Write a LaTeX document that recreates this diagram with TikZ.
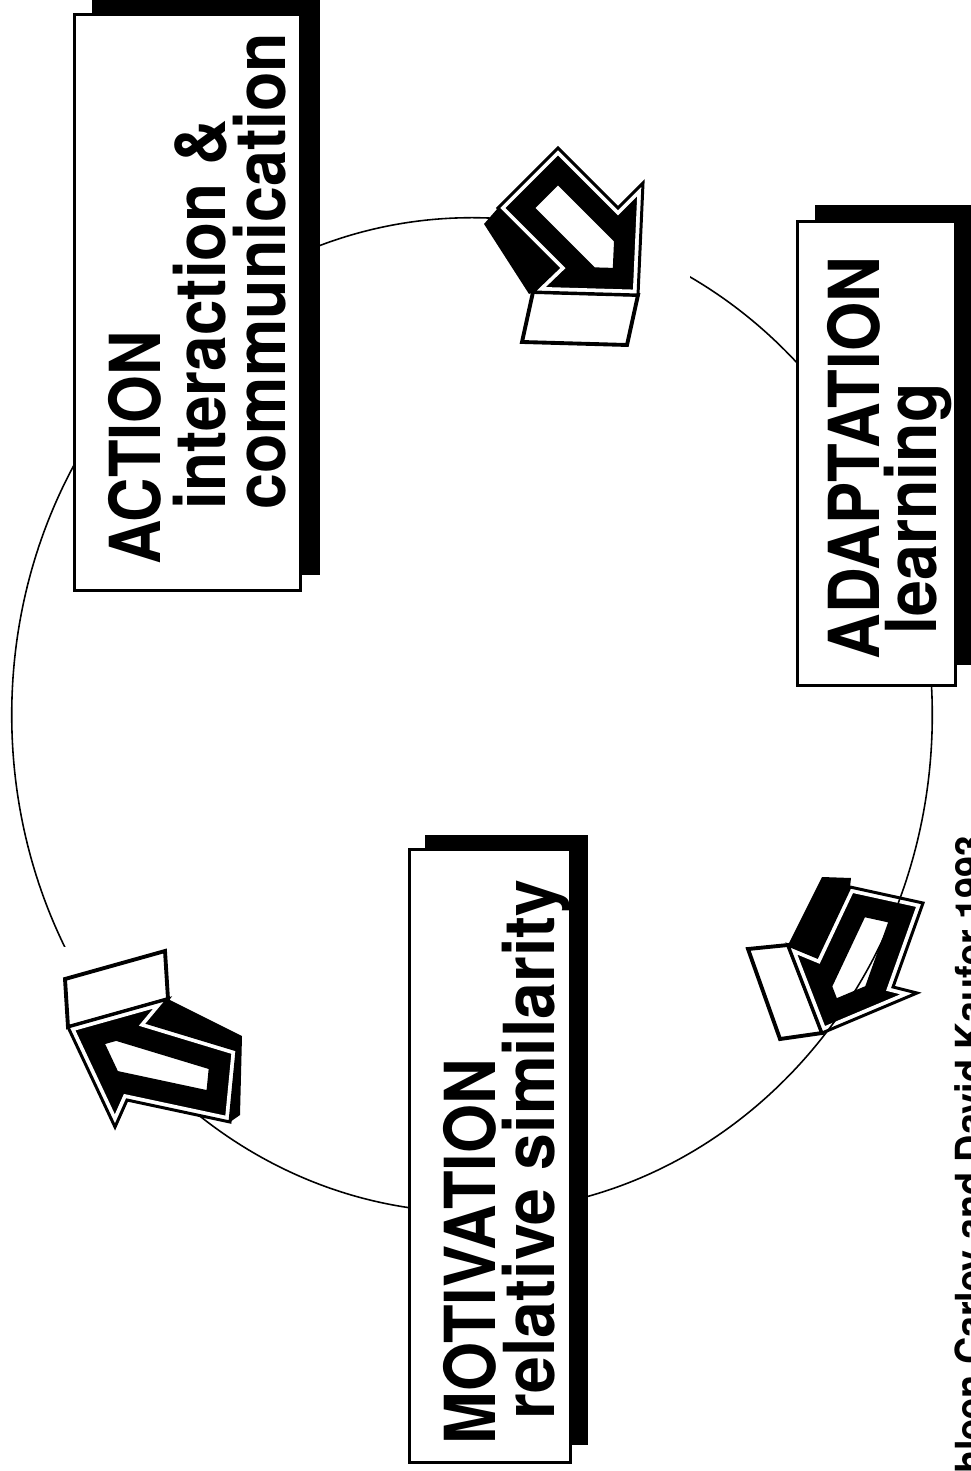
\documentclass[tikz,border=0pt]{standalone}
\usepackage{fontspec}
\setmainfont{TeX Gyre Heros}
\usetikzlibrary{calc}
\newcommand\arrowpath[1]{(#1T) -- (#1A) -- (#1SA) -- (#1TA) -- (#1TB) -- (#1SB) -- (#1B) -- cycle}
\newcommand\drawblockarrow[1]{%
  \fill[white] \arrowpath{#1};
  \begin{scope}
    \clip \arrowpath{#1};
    \draw[black, line width=15pt, line join=miter] \arrowpath{#1};
    \draw[white, line width=3pt, line join=miter] \arrowpath{#1};
  \end{scope}
  \draw[outline] \arrowpath{#1};
}
\begin{document}
\begin{tikzpicture}[x=0.01cm,y=-0.01cm,
  shadowfill/.style={fill=black},
  whitebox/.style={draw=black, fill=white, line width=0.85pt, inner sep=0pt},
  lbl/.style={rotate=90, anchor=base west, inner sep=0pt, font=\bfseries\fontsize{20}{20}\selectfont},
  cite/.style={rotate=90, anchor=base east, inner sep=0pt, font=\bfseries\fontsize{11.4}{12}\selectfont},
  ring/.style={draw=black, line width=0.45pt},
  panel/.style={draw=black, fill=white, line width=1.1pt, line join=miter},
  outline/.style={draw=black, line width=0.85pt, line join=miter},
  eraser/.style={fill=white},
]
\useasboundingbox (0,0) rectangle (971,1471);
\clip (0,0) rectangle (971,1471);
\fill[white] (0,0) rectangle (971,1471);

% ---------- arrow coordinates ----------
% top arrow (ACTION -> ADAPTATION)
\coordinate (topT)  at (638,295);
\coordinate (topA)  at (533,292);
\coordinate (topSA) at (558,268);
\coordinate (topTA) at (498,208);
\coordinate (topTB) at (558,148);
\coordinate (topSB) at (618,208);
\coordinate (topB)  at (643,183);
% bottom-right arrow (ADAPTATION -> MOTIVATION)
\coordinate (brT)  at (822,1033);
\coordinate (brA)  at (788,945);
\coordinate (brSA) at (817,957);
\coordinate (brTA) at (850,887);
\coordinate (brTB) at (923,903);
\coordinate (brSB) at (893,987);
\coordinate (brB)  at (917,993);
% left arrow (MOTIVATION -> ACTION)
\coordinate (lfT)  at (68,1027);
\coordinate (lfA)  at (168,999);
\coordinate (lfSA) at (148,1023);
\coordinate (lfTA) at (237,1050);
\coordinate (lfTB) at (230,1122);
\coordinate (lfSB) at (127,1100);
\coordinate (lfB)  at (115,1127);

% ---------- bottom-right arrow (under the ring) ----------
\draw[panel] (brA) -- (brT) -- ++(-42,6) -- ($(brA)+(-40,4)$) -- cycle;
\fill[black] (brA) -- (822,877) -- (851,878) -- (brTA) -- (brSA) -- cycle;
\drawblockarrow{br}

% ---------- ring ----------
\draw[ring] (472,715) ellipse [x radius=4.6cm, y radius=4.97cm];
% gaps of the ring beside the arrows
\fill[eraser] (632,228) rectangle (690,300);
\fill[eraser] (52,947) rectangle (100,990);

% ---------- boxes ----------
\fill[shadowfill] (92,-5) rectangle (320,575);
\node[whitebox, minimum width=2.25cm, minimum height=5.75cm] (action) at (187.5,302.5) {};
\node[lbl] (actionA) at (160,565) {\scalebox{0.873}[1]{ACTION}};
\node[lbl] (actionB) at (225,510) {\scalebox{0.907}[1]{interaction \&}};
\node[lbl] (actionC) at (285,510) {\scalebox{0.917}[1]{communication}};

\fill[shadowfill] (815,205) rectangle (980,665);
\node[whitebox, minimum width=1.57cm, minimum height=4.63cm] (adaptation) at (876.5,453.5) {};
\node[lbl] (adaptA) at (879,660) {\scalebox{0.90}[1]{ADAPTATION}};
\node[lbl] (adaptB) at (936,635) {\scalebox{0.917}[1]{learning}};

\fill[shadowfill] (425,835) rectangle (588,1445);
\node[whitebox, minimum width=1.6cm, minimum height=6.12cm] (motivation) at (490,1156) {};
\node[lbl] (motivA) at (495,1445) {\scalebox{0.897}[1]{MOTIVATION}};
\node[lbl] (motivB) at (554,1420) {\scalebox{0.94}[1]{relative similarity}};

% ---------- top arrow ----------
\draw[panel] (topA) -- (topT) -- ++(-11,50) -- ($(topA)+(-11,50)$) -- cycle;
\fill[black] (topTA) -- (484,224) -- (529,294) -- (topA) -- (topSA) -- cycle;
\drawblockarrow{top}

% ---------- left arrow ----------
\draw[panel] (lfT) -- (lfA) -- ++(-3,-48) -- ($(lfT)+(-3,-48)$) -- cycle;
\fill[black] (lfA) -- (242,1036) -- (240,1115) -- (lfTB) -- (lfTA) -- (lfSA) -- cycle;
\drawblockarrow{lf}

% ---------- credit ----------
\node[cite] (credit) at (984,835) {\scalebox{0.942}[1]{Kathleen Carley and David Kaufer 1993}};
\end{tikzpicture}
\end{document}
